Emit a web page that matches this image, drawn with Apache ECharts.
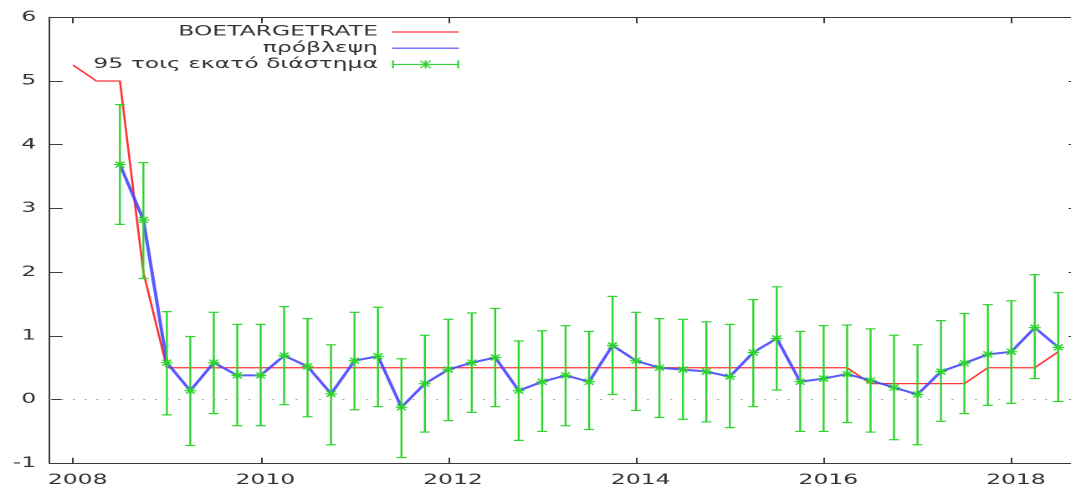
<!DOCTYPE html>
<html>
<head>
<meta charset="utf-8">
<script src="https://cdn.jsdelivr.net/npm/echarts@6/dist/echarts.min.js"></script>
<style>
html,body{margin:0;padding:0;background:#fff;overflow:hidden;}
#wrap{width:1071px;height:488px;overflow:hidden;position:relative;}
#chart{width:640px;height:488px;transform:scaleX(1.6734);transform-origin:0 0;}
</style>
</head>
<body>
<div id="wrap"><div id="chart"></div></div>
<script>
// ---- data ----
const ratePeriods = ["2008:1","2008:2","2008:3","2008:4","2009:1","2009:2","2009:3","2009:4","2010:1","2010:2","2010:3","2010:4","2011:1","2011:2","2011:3","2011:4","2012:1","2012:2","2012:3","2012:4","2013:1","2013:2","2013:3","2013:4","2014:1","2014:2","2014:3","2014:4","2015:1","2015:2","2015:3","2015:4","2016:1","2016:2","2016:3","2016:4","2017:1","2017:2","2017:3","2017:4","2018:1","2018:2","2018:3"];
const bankRate = [5.25,5.0,5.0,2.0,0.5,0.5,0.5,0.5,0.5,0.5,0.5,0.5,0.5,0.5,0.5,0.5,0.5,0.5,0.5,0.5,0.5,0.5,0.5,0.5,0.5,0.5,0.5,0.5,0.5,0.5,0.5,0.5,0.5,0.5,0.25,0.25,0.25,0.25,0.25,0.5,0.5,0.5,0.75];
const forecastPeriods = ratePeriods.slice(2);
const forecast = [3.69,2.82,0.58,0.14,0.58,0.38,0.38,0.69,0.52,0.09,0.61,0.68,-0.12,0.25,0.47,0.58,0.66,0.14,0.28,0.38,0.28,0.85,0.61,0.50,0.47,0.44,0.36,0.74,0.96,0.28,0.33,0.40,0.30,0.19,0.08,0.44,0.57,0.71,0.75,1.13,0.82];
const upper = [4.63,3.72,1.38,0.99,1.37,1.18,1.18,1.46,1.27,0.86,1.37,1.45,0.64,1.01,1.26,1.36,1.43,0.92,1.08,1.16,1.07,1.62,1.37,1.27,1.26,1.22,1.18,1.57,1.77,1.07,1.16,1.17,1.11,1.01,0.86,1.24,1.35,1.49,1.55,1.96,1.68];
const lower = [2.75,1.90,-0.24,-0.72,-0.22,-0.41,-0.41,-0.08,-0.27,-0.71,-0.16,-0.11,-0.91,-0.51,-0.33,-0.20,-0.11,-0.64,-0.50,-0.41,-0.47,0.08,-0.17,-0.28,-0.31,-0.35,-0.44,-0.11,0.15,-0.50,-0.50,-0.36,-0.51,-0.63,-0.71,-0.34,-0.22,-0.09,-0.06,0.33,-0.03];
const xTicks = [2008,2010,2012,2014,2016,2018];
const names = ["BOETARGETRATE","πρόβλεψη","95 τοις εκατό διάστημα"];

// ---- helpers ----
const toX = p => { const [y,q] = p.split(":").map(Number); return y + (q-1)/4; };
const RED = "#ff3535", BLUE = "#4848ff", GREEN = "#2ed42e", AXIS = "#3a3a3a", TXT = "#333333";
const FONT = "DejaVu Sans", FS = 14;

const rateData = ratePeriods.map((p,i) => [toX(p), bankRate[i]]);
const fcData = forecastPeriods.map((p,i) => [toX(p), forecast[i]]);
const ebData = forecastPeriods.map((p,i) => [toX(p), lower[i], upper[i], forecast[i]]);

const LINE_ICON = "path://M0,0 M40,10 M0,4.4 H40 V5.6 H0 Z";
const EB_ICON = "path://M0,0 M40,10 M0,4.45 H40 V5.55 H0 Z M0,1 H1.1 V9 H0 Z M38.9,1 H40 V9 H38.9 Z M19.45,1 H20.55 V9 H19.45 Z M16.6,1.6 L17.3,1.0 L23.4,8.4 L22.7,9.0 Z M22.7,1.0 L23.4,1.6 L17.3,9.0 L16.6,8.4 Z";

function renderErrorBar(params, api) {
  const x = api.value(0), lo = api.value(1), hi = api.value(2), c = api.value(3);
  const pH = api.coord([x, hi]), pL = api.coord([x, lo]), pC = api.coord([x, c]);
  const cap = 3, sx = 3.5, sy = 4, dx = 2.6, dy = 3;
  const style = { stroke: GREEN, lineWidth: 1.2 };
  const ln = (x1,y1,x2,y2) => ({ type: "line", shape: {x1,y1,x2,y2}, style });
  return { type: "group", children: [
    ln(pH[0], pH[1], pL[0], pL[1]),
    ln(pH[0]-cap, pH[1], pH[0]+cap, pH[1]),
    ln(pL[0]-cap, pL[1], pL[0]+cap, pL[1]),
    ln(pC[0]-sx, pC[1], pC[0]+sx, pC[1]),
    ln(pC[0], pC[1]-sy, pC[0], pC[1]+sy),
    ln(pC[0]-dx, pC[1]-dy, pC[0]+dx, pC[1]+dy),
    ln(pC[0]-dx, pC[1]+dy, pC[0]+dx, pC[1]-dy)
  ]};
}

const chart = echarts.init(document.getElementById("chart"), null, { renderer: "canvas", devicePixelRatio: 2 });
const labelStyle = { color: TXT, fontFamily: FONT, fontSize: FS };
chart.setOption({
  animation: false,
  backgroundColor: "#fff",
  grid: { left: 29.6, top: 17.3, width: 616.8, height: 446, outerBoundsMode: "none", containLabel: false },
  legend: {
    orient: "vertical", align: "right", right: 365.7, top: 25, padding: 0,
    itemWidth: 40, itemHeight: 10, itemGap: 2.2,
    textStyle: { color: TXT, fontFamily: FONT, fontSize: FS, padding: [0, 3.5, 0, 0] },
    data: [
      { name: names[0], icon: LINE_ICON, itemStyle: { borderWidth: 0 } },
      { name: names[1], icon: LINE_ICON, itemStyle: { borderWidth: 0 } },
      { name: names[2], icon: EB_ICON, itemStyle: { borderWidth: 0 } }
    ],
    selectedMode: false
  },
  xAxis: [
    { type: "value", position: "bottom", min: 2007.75, max: 2018.75,
      axisLine: { show: true, onZero: false, lineStyle: { color: AXIS, width: 1 } },
      axisTick: { show: true, inside: true, length: 5.5, customValues: xTicks, lineStyle: { color: AXIS } },
      axisLabel: { show: true, customValues: xTicks, margin: 10, padding: [0, 0, 0, 5.6], formatter: v => String(v), ...labelStyle },
      splitLine: { show: false } },
    { type: "value", position: "top", min: 2007.75, max: 2018.75,
      axisLine: { show: true, onZero: false, lineStyle: { color: AXIS, width: 1 } },
      axisTick: { show: true, inside: true, length: 6, customValues: xTicks, lineStyle: { color: AXIS } },
      axisLabel: { show: false, customValues: xTicks },
      splitLine: { show: false } }
  ],
  yAxis: [
    { type: "value", position: "left", min: -1, max: 6, interval: 1,
      axisLine: { show: true, onZero: false, lineStyle: { color: AXIS, width: 1 } },
      axisTick: { show: true, inside: true, length: 7.8, lineStyle: { color: AXIS } },
      axisLabel: { show: true, margin: 8, ...labelStyle },
      splitLine: { show: false } },
    { type: "value", position: "right", min: -1, max: 6, interval: 1,
      axisLine: { show: true, onZero: false, lineStyle: { color: AXIS, width: 1 } },
      axisTick: { show: true, inside: true, length: 7.8, lineStyle: { color: AXIS } },
      axisLabel: { show: false },
      splitLine: { show: false } }
  ],
  series: [
    { name: names[0], type: "line", data: rateData, symbol: "none", showSymbol: false,
      itemStyle: { color: RED }, lineStyle: { color: RED, width: 1.3 }, z: 2,
      markLine: { silent: true, symbol: "none", label: { show: false },
        lineStyle: { color: "#a8a8a8", type: [1.2, 5.8], width: 1 },
        data: [{ yAxis: 0 }] } },
    { name: names[1], type: "line", data: fcData, symbol: "none", showSymbol: false,
      itemStyle: { color: BLUE }, lineStyle: { color: BLUE, width: 2, opacity: 0.9 }, z: 3 },
    { name: names[2], type: "custom", data: ebData, renderItem: renderErrorBar,
      itemStyle: { color: GREEN }, encode: { x: 0, y: [1, 2, 3] }, z: 4 }
  ]
});
</script>
</body>
</html>
